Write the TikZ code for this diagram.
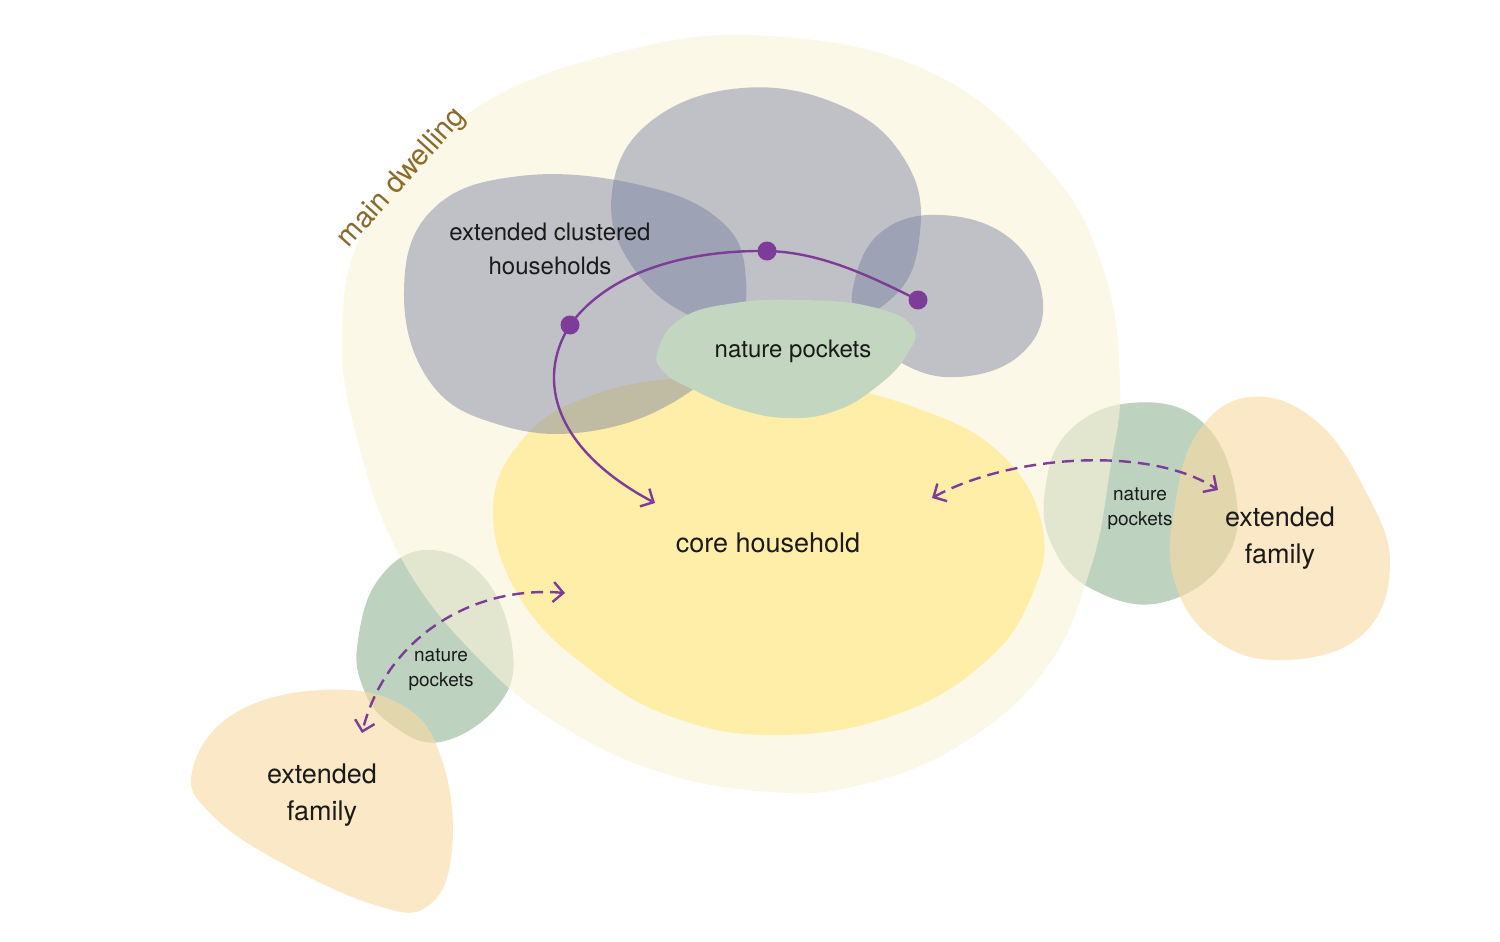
\documentclass[tikz,border=0pt]{standalone}
\usepackage{fontspec}
\setmainfont{TeX Gyre Heros}
\usetikzlibrary{arrows.meta}
\definecolor{dwellcol}{HTML}{FBF4D8}
\definecolor{corecol}{HTML}{FEEEA8}
\definecolor{housecol}{HTML}{75809F}
\definecolor{pocketcol}{HTML}{BED3BF}
\definecolor{toppocketcol}{HTML}{C2D6C0}
\definecolor{familycol}{HTML}{F9D9A0}
\definecolor{linkcol}{HTML}{7D3C98}
\definecolor{dwelltext}{HTML}{8C6A2A}
\definecolor{inktext}{HTML}{1A1A1A}

\begin{document}
\begin{tikzpicture}[x=0.5pt,y=-0.5pt,
  label/.style={text=inktext, align=center, font=\fontsize{12}{17}\selectfont},
  biglabel/.style={text=inktext, align=center, font=\fontsize{13.5}{18.5}\selectfont},
  smalllabel/.style={text=inktext, align=center, font=\fontsize{9.5}{12.5}\selectfont},
  link/.style={linkcol, line width=1.2pt, -{Straight Barb[length=5pt, width=10pt]}},
  duallink/.style={linkcol, line width=1.2pt, dash pattern=on 6pt off 3.5pt,
    {Straight Barb[length=5pt, width=10pt]}-{Straight Barb[length=5pt, width=10pt]}}]
\useasboundingbox (0,0) rectangle (1500,942);
\fill[white] (0,0) rectangle (1500,942);
\fill[pocketcol] plot[smooth cycle, tension=0.7] coordinates {(1045,490) (1068,432) (1130,403) (1200,420) (1235,490) (1225,560) (1160,603) (1090,588) (1052,545)};
\fill[pocketcol] plot[smooth cycle, tension=0.7] coordinates {(358,640) (378,580) (425,550) (482,575) (512,645) (500,703) (440,742) (388,722) (362,685)};
\fill[dwellcol, fill opacity=0.6] plot[smooth cycle, tension=0.7] coordinates {(342,330) (370,220) (470,112) (620,52) (770,36) (930,72) (1045,165) (1102,265) (1120,380) (1110,470) (1090,570) (1045,670) (960,745) (860,785) (770,792) (660,772) (560,725) (480,660) (405,565) (360,450)};
\fill[familycol, fill opacity=0.6] plot[smooth cycle, tension=0.7] coordinates {(1175,505) (1198,432) (1250,397) (1315,420) (1365,490) (1390,565) (1362,635) (1285,660) (1215,640) (1174,580)};
\fill[familycol, fill opacity=0.6] plot[smooth cycle, tension=0.7] coordinates {(192,772) (232,715) (320,690) (402,705) (442,760) (452,850) (428,906) (375,905) (280,862) (212,815)};
\fill[corecol] plot[smooth cycle, tension=0.7] coordinates {(493,510) (522,440) (585,398) (680,378) (800,380) (922,410) (1002,455) (1042,525) (1032,595) (985,662) (895,715) (780,735) (675,718) (588,668) (520,598)};
\fill[housecol, fill opacity=0.45] plot[smooth cycle, tension=0.7] coordinates {(404,292) (432,210) (520,176) (640,185) (722,222) (746,280) (732,342) (682,397) (592,431) (500,425) (430,382)};
\fill[housecol, fill opacity=0.45] plot[smooth cycle, tension=0.7] coordinates {(612,192) (650,122) (742,88) (842,106) (905,160) (920,232) (890,300) (800,335) (700,320) (632,266)};
\fill[housecol, fill opacity=0.45] plot[smooth cycle, tension=0.7] coordinates {(853,288) (880,233) (942,215) (1012,240) (1043,302) (1020,355) (958,377) (900,362) (862,322)};
\fill[toppocketcol] plot[smooth cycle, tension=0.75] coordinates {(658,350) (682,318) (735,303) (800,300) (868,306) (912,326) (906,356) (875,388) (835,411) (790,418) (742,410) (694,390) (664,372)};
\node[text=dwelltext, rotate=48, font=\fontsize{14.5}{16}\selectfont] (dwelling) at (402,178) {main dwelling};
\node[label] (clustered) at (550,249) {extended clustered\\households};
\node[label] (toppockets) at (793,351) {nature pockets};
\node[biglabel] (core) at (768,543) {core household};
\node[smalllabel] (rightpockets) at (1140,509) {nature\\pockets};
\node[biglabel] (rightfamily) at (1280,538) {extended\\family};
\node[smalllabel] (leftpockets) at (441,670) {nature\\pockets};
\node[biglabel] (leftfamily) at (322,795) {extended\\family};
\coordinate (hopa) at (918,300);
\coordinate (hopb) at (767,251);
\coordinate (hopc) at (570,325);
\coordinate (coretop) at (655,503);
\coordinate (coreright) at (932,498);
\coordinate (familyright) at (1218,490);
\coordinate (coreleft) at (565,593);
\coordinate (familyleft) at (362,733);
\draw[link] (hopa) .. controls (870,276) and (820,252) .. (hopb) .. controls (690,250) and (610,270) .. (hopc) .. controls (535,380) and (555,450) .. (coretop);
\draw[duallink] (coreright) .. controls (1010,455) and (1150,445) .. (familyright);
\draw[duallink] (coreleft) .. controls (470,585) and (385,640) .. (familyleft);
\fill[linkcol] (hopa) circle (9.5) (hopb) circle (9.5) (hopc) circle (9.5);
\end{tikzpicture}
\end{document}
